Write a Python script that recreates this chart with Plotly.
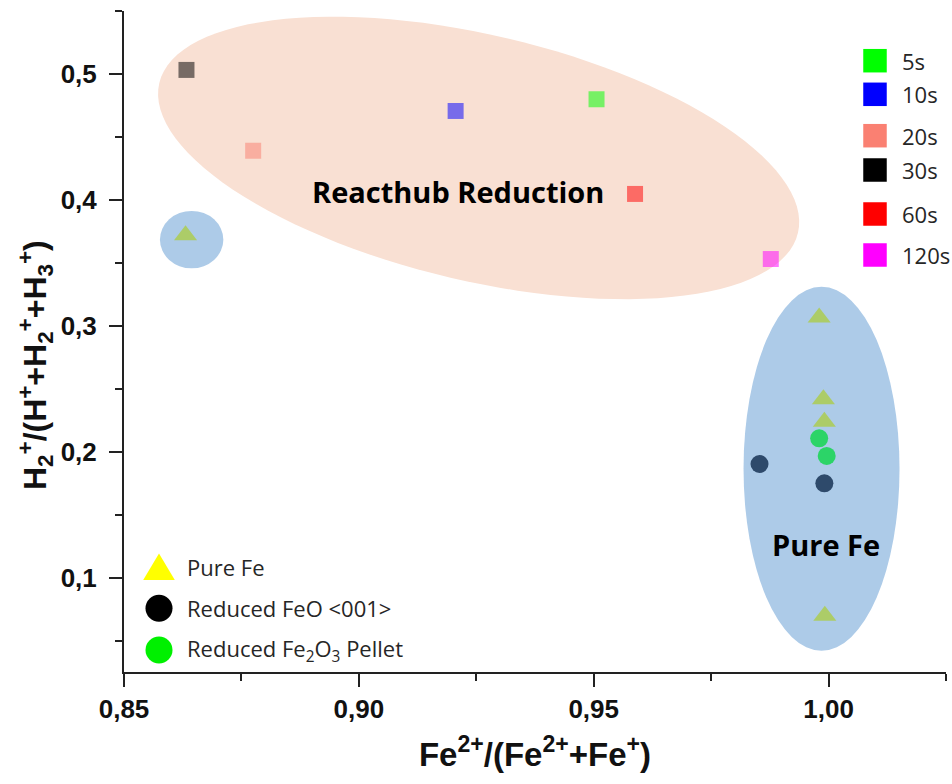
import math
import plotly.graph_objects as go

# --- data -----------------------------------------------------------------
# Reacthub reduction series, one point per reduction time
time_labels = ["5s", "10s", "20s", "30s", "60s", "120s"]
time_colors = ["#00FF00", "#0000FF", "#FA8072", "#000000", "#FF0000", "#FF00FF"]
reacthub_x = [0.9506, 0.9206, 0.8775, 0.8633, 0.9588, 0.9877]
reacthub_y = [0.4799, 0.4706, 0.4390, 0.5032, 0.4047, 0.3530]

# Pure Fe reference measurements
pure_fe_x = [0.8631, 0.9980, 0.9989, 0.9991, 0.9992]
pure_fe_y = [0.3719, 0.3066, 0.2417, 0.2237, 0.0696]

# Reduced FeO <001>
feo_x = [0.9853, 0.9991]
feo_y = [0.1902, 0.1749]

# Reduced Fe2O3 pellet
fe2o3_x = [0.9980, 0.9996]
fe2o3_y = [0.2106, 0.1966]

sample_labels = ["Pure Fe", "Reduced FeO <001>", "Reduced Fe<sub>2</sub>O<sub>3</sub> Pellet"]
sample_symbols = ["triangle", "circle", "circle"]
sample_legend_colors = ["#FFFF00", "#000000", "#00F000"]

x_ticks = [0.85, 0.90, 0.95, 1.00]
y_ticks = [0.1, 0.2, 0.3, 0.4, 0.5]

# --- geometry ---------------------------------------------------------------
W, H = 952, 784
ML, MR, MT, MB = 124, 6, 11, 112
PW, PH = W - ML - MR, H - MT - MB
XR = [0.85, 1.025]
YR = [0.025, 0.55]


def paper_x(px):
    return (px - ML) / PW


def paper_y(py):
    return (H - MB - py) / PH


fig = go.Figure()

# region highlights behind the points
shapes = []


def rotated_ellipse_path(a, b, deg, n=120):
    phi = math.radians(deg)
    pts = []
    for i in range(n):
        t = 2 * math.pi * i / n
        x = a * math.cos(t) * math.cos(phi) - b * math.sin(t) * math.sin(phi)
        y = a * math.cos(t) * math.sin(phi) + b * math.sin(t) * math.cos(phi)
        pts.append(f"{x:.2f},{y:.2f}")
    return "M" + " L".join(pts) + " Z"


shapes.append(dict(
    type="path", xref="x", yref="y", xsizemode="pixel", ysizemode="pixel",
    xanchor=0.9255, yanchor=0.4333,
    path=rotated_ellipse_path(328, 123, -13.2),
    fillcolor="rgb(249,224,211)", line=dict(width=0), layer="below",
))
shapes.append(dict(
    type="circle", xref="x", yref="y", xsizemode="pixel", ysizemode="pixel",
    xanchor=0.8644, yanchor=0.3684, x0=-31.7, x1=31.7, y0=-28.7, y1=28.7,
    fillcolor="rgb(173,203,232)", line=dict(width=0), layer="below",
))
shapes.append(dict(
    type="circle", xref="x", yref="y", xsizemode="pixel", ysizemode="pixel",
    xanchor=0.9985, yanchor=0.1864, x0=-78, x1=78, y0=-182, y1=182,
    fillcolor="rgb(173,203,232)", line=dict(width=0), layer="below",
))

# --- traces -----------------------------------------------------------------
for lab, col, x, y in zip(time_labels, time_colors, reacthub_x, reacthub_y):
    fig.add_trace(go.Scatter(
        x=[x], y=[y], mode="markers", name=lab, showlegend=False,
        marker=dict(symbol="square", size=16, color=col, opacity=0.52,
                    line=dict(width=0)),
    ))

fig.add_trace(go.Scatter(
    x=pure_fe_x, y=pure_fe_y, mode="markers", name="Pure Fe", showlegend=False,
    marker=dict(symbol="triangle-up", size=20, color="rgb(172,204,104)",
                line=dict(width=0)),
))
fig.add_trace(go.Scatter(
    x=feo_x, y=feo_y, mode="markers", name="Reduced FeO <001>", showlegend=False,
    marker=dict(symbol="circle", size=18, color="rgb(46,74,107)", line=dict(width=0)),
))
fig.add_trace(go.Scatter(
    x=fe2o3_x, y=fe2o3_y, mode="markers", name="Reduced Fe2O3 Pellet", showlegend=False,
    marker=dict(symbol="circle", size=18, color="rgb(44,212,104)", line=dict(width=0)),
))

# --- legends drawn as glyph shapes + text -----------------------------------
annotations = []
legend_font = dict(family="Open Sans, DejaVu Sans, sans-serif", size=22, color="#262626")

time_legend_rows = [60.7, 94.3, 135.7, 170.0, 214.0, 255.0]
for lab, col, row in zip(time_labels, time_colors, time_legend_rows):
    shapes.append(dict(
        type="rect", xref="paper", yref="paper", xsizemode="pixel", ysizemode="pixel",
        xanchor=paper_x(875), yanchor=paper_y(row), x0=-11.75, x1=11.75, y0=-11.75, y1=11.75,
        fillcolor=col, line=dict(width=0), layer="above",
    ))
    annotations.append(dict(
        xref="paper", yref="paper", x=paper_x(900), y=paper_y(row), text=lab,
        showarrow=False, xanchor="left", yanchor="middle", font=legend_font,
    ))

sample_legend_rows = [566.7, 608.3, 650.0]
for lab, sym, col, row in zip(sample_labels, sample_symbols, sample_legend_colors,
                              sample_legend_rows):
    if sym == "triangle":
        shapes.append(dict(
            type="path", xref="paper", yref="paper", xsizemode="pixel", ysizemode="pixel",
            xanchor=paper_x(159), yanchor=paper_y(row),
            path="M-15.8,-13.3 L15.8,-13.3 L0,13.3 Z",
            fillcolor=col, line=dict(width=0), layer="above",
        ))
    else:
        shapes.append(dict(
            type="circle", xref="paper", yref="paper", xsizemode="pixel", ysizemode="pixel",
            xanchor=paper_x(159), yanchor=paper_y(row), x0=-13.5, x1=13.5, y0=-13.5, y1=13.5,
            fillcolor=col, line=dict(width=0), layer="above",
        ))
    annotations.append(dict(
        xref="paper", yref="paper", x=paper_x(185), y=paper_y(row), text=lab,
        showarrow=False, xanchor="left", yanchor="middle", font=legend_font,
    ))

# region labels
label_font = dict(family="Open Sans, DejaVu Sans, sans-serif", size=29, color="#000000",
                  weight="bold")
annotations.append(dict(x=0.9210, y=0.4063, xref="x", yref="y", text="Reacthub Reduction",
                        showarrow=False, xanchor="center", yanchor="middle", font=label_font))
annotations.append(dict(x=0.9995, y=0.1259, xref="x", yref="y", text="Pure Fe",
                        showarrow=False, xanchor="center", yanchor="middle", font=label_font))

# --- layout -----------------------------------------------------------------
tick_font = dict(family="Liberation Sans, Arial, sans-serif", size=26, color="#111111",
                 weight="bold")
title_font = dict(family="Liberation Sans, Arial, sans-serif", size=33, color="#111111",
                  weight="bold")
ytitle_font = dict(title_font, size=32)

# y-axis title placed as a rotated annotation beside the tick labels
annotations.append(dict(
    xref="paper", yref="paper", x=paper_x(35), y=paper_y(365), textangle=-90,
    text="H<sub>2</sub><sup>+</sup>/(H<sup>+</sup>+H<sub>2</sub><sup>+</sup>"
         "+H<sub>3</sub><sup>+</sup>)",
    showarrow=False, xanchor="center", yanchor="middle", font=ytitle_font,
))

axis_common = dict(
    showline=True, linewidth=2, linecolor="#222222", showgrid=False, zeroline=False,
    ticks="outside", ticklen=13, tickwidth=2, tickcolor="#222222",
    tickfont=tick_font,
)

fig.update_layout(
    width=W, height=H,
    margin=dict(l=ML, r=MR, t=MT, b=MB, pad=0),
    paper_bgcolor="white", plot_bgcolor="white",
    separators=",.",
    showlegend=False,
    shapes=shapes,
    annotations=annotations,
    xaxis=dict(
        axis_common, range=XR, tickvals=x_ticks, tickformat=".2f",
        minor=dict(ticks="outside", ticklen=7, tickwidth=2, tickcolor="#222222",
                   dtick=0.025, tick0=0.85),
        title=dict(text="Fe<sup>2+</sup>/(Fe<sup>2+</sup>+Fe<sup>+</sup>)",
                   font=title_font, standoff=20),
    ),
    yaxis=dict(
        axis_common, range=YR, tickvals=y_ticks, tickformat=".1f",
        ticklabelstandoff=7,
        minor=dict(ticks="outside", ticklen=7, tickwidth=2, tickcolor="#222222",
                   dtick=0.05, tick0=0.05),
    ),
)

fig.write_html("out.html")
